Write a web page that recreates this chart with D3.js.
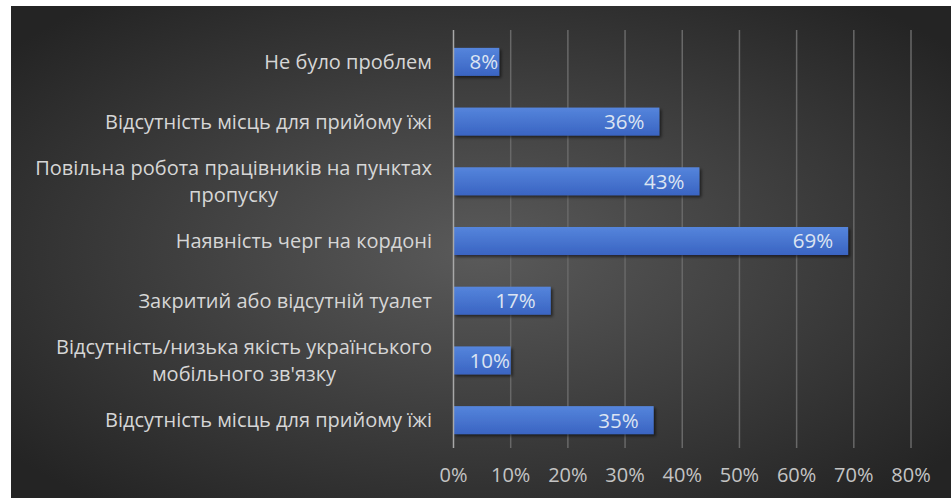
<!DOCTYPE html>
<html><head><meta charset="utf-8">
<script src="https://cdn.jsdelivr.net/npm/d3@7"></script>
<style>html,body{margin:0;padding:0;background:#fff;}svg{display:block;}</style>
</head><body>
<svg id="c" width="951" height="498"></svg>
<script>
const categories = [
  "Не було проблем",
  "Відсутність місць для прийому їжі",
  "Повільна робота працівників на пунктах пропуску",
  "Наявність черг на кордоні",
  "Закритий або відсутній туалет",
  "Відсутність/низька якість українського мобільного зв'язку",
  "Відсутність місць для прийому їжі"
];
const values = [8, 36, 43, 69, 17, 10, 35];
const tickValues = [0, 10, 20, 30, 40, 50, 60, 70, 80];

const W = 951, H = 498;
const svg = d3.select("#c");
const defs = svg.append("defs");
const bg = defs.append("radialGradient").attr("id","bg")
  .attr("cx","50%").attr("cy","50%").attr("r","65%");
bg.append("stop").attr("offset","0%").attr("stop-color","#5a5a5a");
bg.append("stop").attr("offset","100%").attr("stop-color","#242424");
const bar = defs.append("linearGradient").attr("id","bar").attr("x1",0).attr("y1",0).attr("x2",0).attr("y2",1);
bar.append("stop").attr("offset","0%").attr("stop-color","#5585dc");
bar.append("stop").attr("offset","100%").attr("stop-color","#3a64c2");
const f = defs.append("filter").attr("id","sh").attr("x","-10%").attr("y","-30%").attr("width","130%").attr("height","180%");
f.append("feDropShadow").attr("dx",2).attr("dy",2).attr("stdDeviation",1.5).attr("flood-color","#000").attr("flood-opacity",0.55);

svg.append("rect").attr("x",11).attr("y",6).attr("width",W-11).attr("height",H-6).attr("fill","url(#bg)");

const x = d3.scaleLinear().domain([0,80]).range([453.5, 911]);
const y = d3.scaleBand().domain(d3.range(categories.length)).range([32,450]).paddingInner(0.531).paddingOuter(0.2655);

const FONT = "'Open Sans', sans-serif";

// gridlines
svg.append("g").selectAll("line").data(tickValues.slice(1)).join("line")
  .attr("x1",d=>x(d)).attr("x2",d=>x(d)).attr("y1",30).attr("y2",448)
  .attr("stroke","#686868").attr("stroke-width",1.5);

// bars
svg.append("g").selectAll("rect").data(values).join("rect")
  .attr("x",x(0)).attr("y",(d,i)=>y(i)).attr("width",d=>x(d)-x(0)).attr("height",y.bandwidth())
  .attr("fill","url(#bar)").attr("filter","url(#sh)");

// axis line
svg.append("line").attr("x1",x(0)).attr("x2",x(0)).attr("y1",30).attr("y2",448)
  .attr("stroke","#a8a8a8").attr("stroke-width",1.5);

// bar labels
const lbl = svg.append("g").selectAll("text").data(values).join("text")
  .attr("y",(d,i)=>y(i)+y.bandwidth()/2).attr("dy","0.36em")
  .attr("text-anchor","end").attr("font-family",FONT).attr("font-size",20.5)
  .attr("fill","#dce4f2").text(d=>d+"%");
lbl.each(function(d){
  const w = this.getComputedTextLength();
  const xe = Math.max(x(d)-15, x(0)+16+w);
  d3.select(this).attr("x", xe);
});

// category labels with wrap
const catG = svg.append("g");
categories.forEach((c,i)=>{
  const t = catG.append("text").attr("text-anchor","middle").attr("font-family",FONT)
    .attr("font-size",20).attr("fill","#d6d6d6");
  const words = c.split(" ");
  let lines = [], cur = [];
  const probe = t.append("tspan");
  words.forEach(w=>{
    cur.push(w);
    probe.text(cur.join(" "));
    if (probe.node().getComputedTextLength() > 410 && cur.length>1){
      cur.pop(); lines.push(cur.join(" ")); cur=[w];
    }
  });
  lines.push(cur.join(" "));
  probe.remove();
  const cy = y(i)+y.bandwidth()/2;
  const lh = 27;
  const tmp = [];
  lines.forEach((ln,k)=>{
    tmp.push(t.append("tspan").attr("y", cy + (k-(lines.length-1)/2)*lh).attr("dy","0.36em").text(ln));
  });
  let maxW = d3.max(tmp, s=>s.node().getComputedTextLength());
  const right = 432;
  tmp.forEach(s=>s.attr("x", right - maxW/2));
});

// tick labels
svg.append("g").selectAll("text").data(tickValues).join("text")
  .attr("x",d=>x(d)).attr("y",475).attr("dy","0.36em").attr("text-anchor","middle")
  .attr("font-family",FONT).attr("font-size",20).attr("fill","#c4c4c4").text(d=>d+"%");
</script>
</body></html>
